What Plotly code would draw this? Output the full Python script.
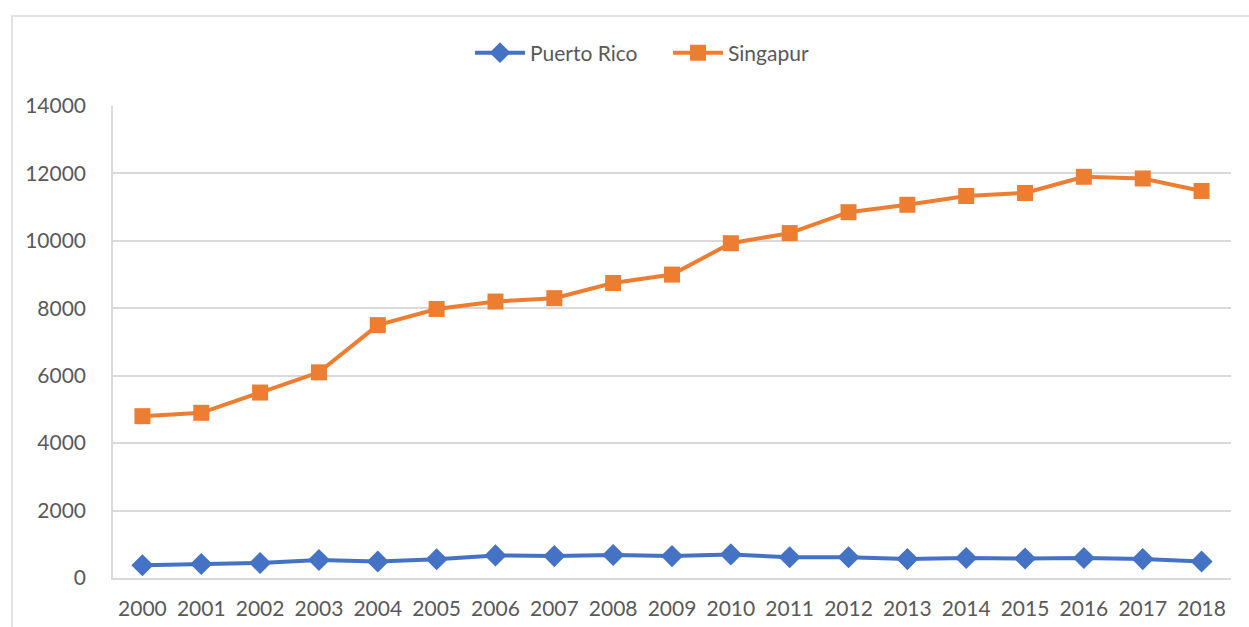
import plotly.graph_objects as go

years = [str(y) for y in range(2000, 2019)]
puerto_rico = [380, 415, 445, 535, 490, 555, 670, 650, 680, 650, 700, 615, 615, 560, 595, 580, 595, 560, 490]
singapur = [4800, 4900, 5500, 6100, 7500, 7980, 8200, 8300, 8750, 9000, 9930, 10230, 10850,
            11070, 11330, 11420, 11900, 11850, 11480]
y_ticks = [0, 2000, 4000, 6000, 8000, 10000, 12000, 14000]

W, H = 1249, 627
L, R, T, B = 113, 18, 106, 49
pw = W - L - R
ph = H - T - B

font_family = "Lato, 'Open Sans', sans-serif"

fig = go.Figure()
fig.add_trace(go.Scatter(
    x=years, y=puerto_rico, name="Puerto Rico", mode="lines+markers",
    line=dict(color="#4472C4", width=4),
    marker=dict(symbol="diamond", size=17, color="#4472C4"),
))
fig.add_trace(go.Scatter(
    x=years, y=singapur, name="Singapur", mode="lines+markers",
    line=dict(color="#ED7D31", width=4),
    marker=dict(symbol="square", size=16, color="#ED7D31"),
))

# outer chart border (light grey frame)
fig.add_shape(type="rect", xref="paper", yref="paper",
              x0=(12 - L) / pw, x1=(W + 20 - L) / pw,
              y0=-(B + 20) / ph, y1=(H - B - 16) / ph,
              line=dict(color="#d9d9d9", width=1.5), fillcolor="rgba(0,0,0,0)", layer="below")

fig.update_layout(
    width=W, height=H,
    margin=dict(l=L, r=R, t=T, b=B, pad=0, autoexpand=False),
    paper_bgcolor="white", plot_bgcolor="white",
    font=dict(family=font_family, color="#595959", size=21),
    legend=dict(orientation="h", x=(668 - L) / pw, y=(H - B - 53) / ph,
                xanchor="center", yanchor="middle",
                font=dict(size=21, color="#595959"), itemwidth=50,
                entrywidth=133, entrywidthmode="pixels",
                bgcolor="rgba(0,0,0,0)"),
    showlegend=True,
)
fig.update_xaxes(
    type="category", categoryorder="array", categoryarray=years,
    range=[-0.5, len(years) - 0.5], automargin=False,
    showgrid=False, showline=True, linecolor="#d9d9d9", linewidth=1.5,
    ticks="", tickfont=dict(size=21, color="#595959"), ticklabelstandoff=11,
    zeroline=False, fixedrange=True,
)
fig.update_yaxes(
    range=[0, 14000], tickvals=y_ticks, ticktext=[str(v) for v in y_ticks],
    automargin=False,
    showgrid=True, gridcolor="#d9d9d9", gridwidth=1.5,
    showline=True, linecolor="#d9d9d9", linewidth=1.5,
    zeroline=False, ticks="", tickfont=dict(size=21, color="#595959"),
    ticklabelstandoff=21, fixedrange=True,
)

fig.write_html("out.html")
